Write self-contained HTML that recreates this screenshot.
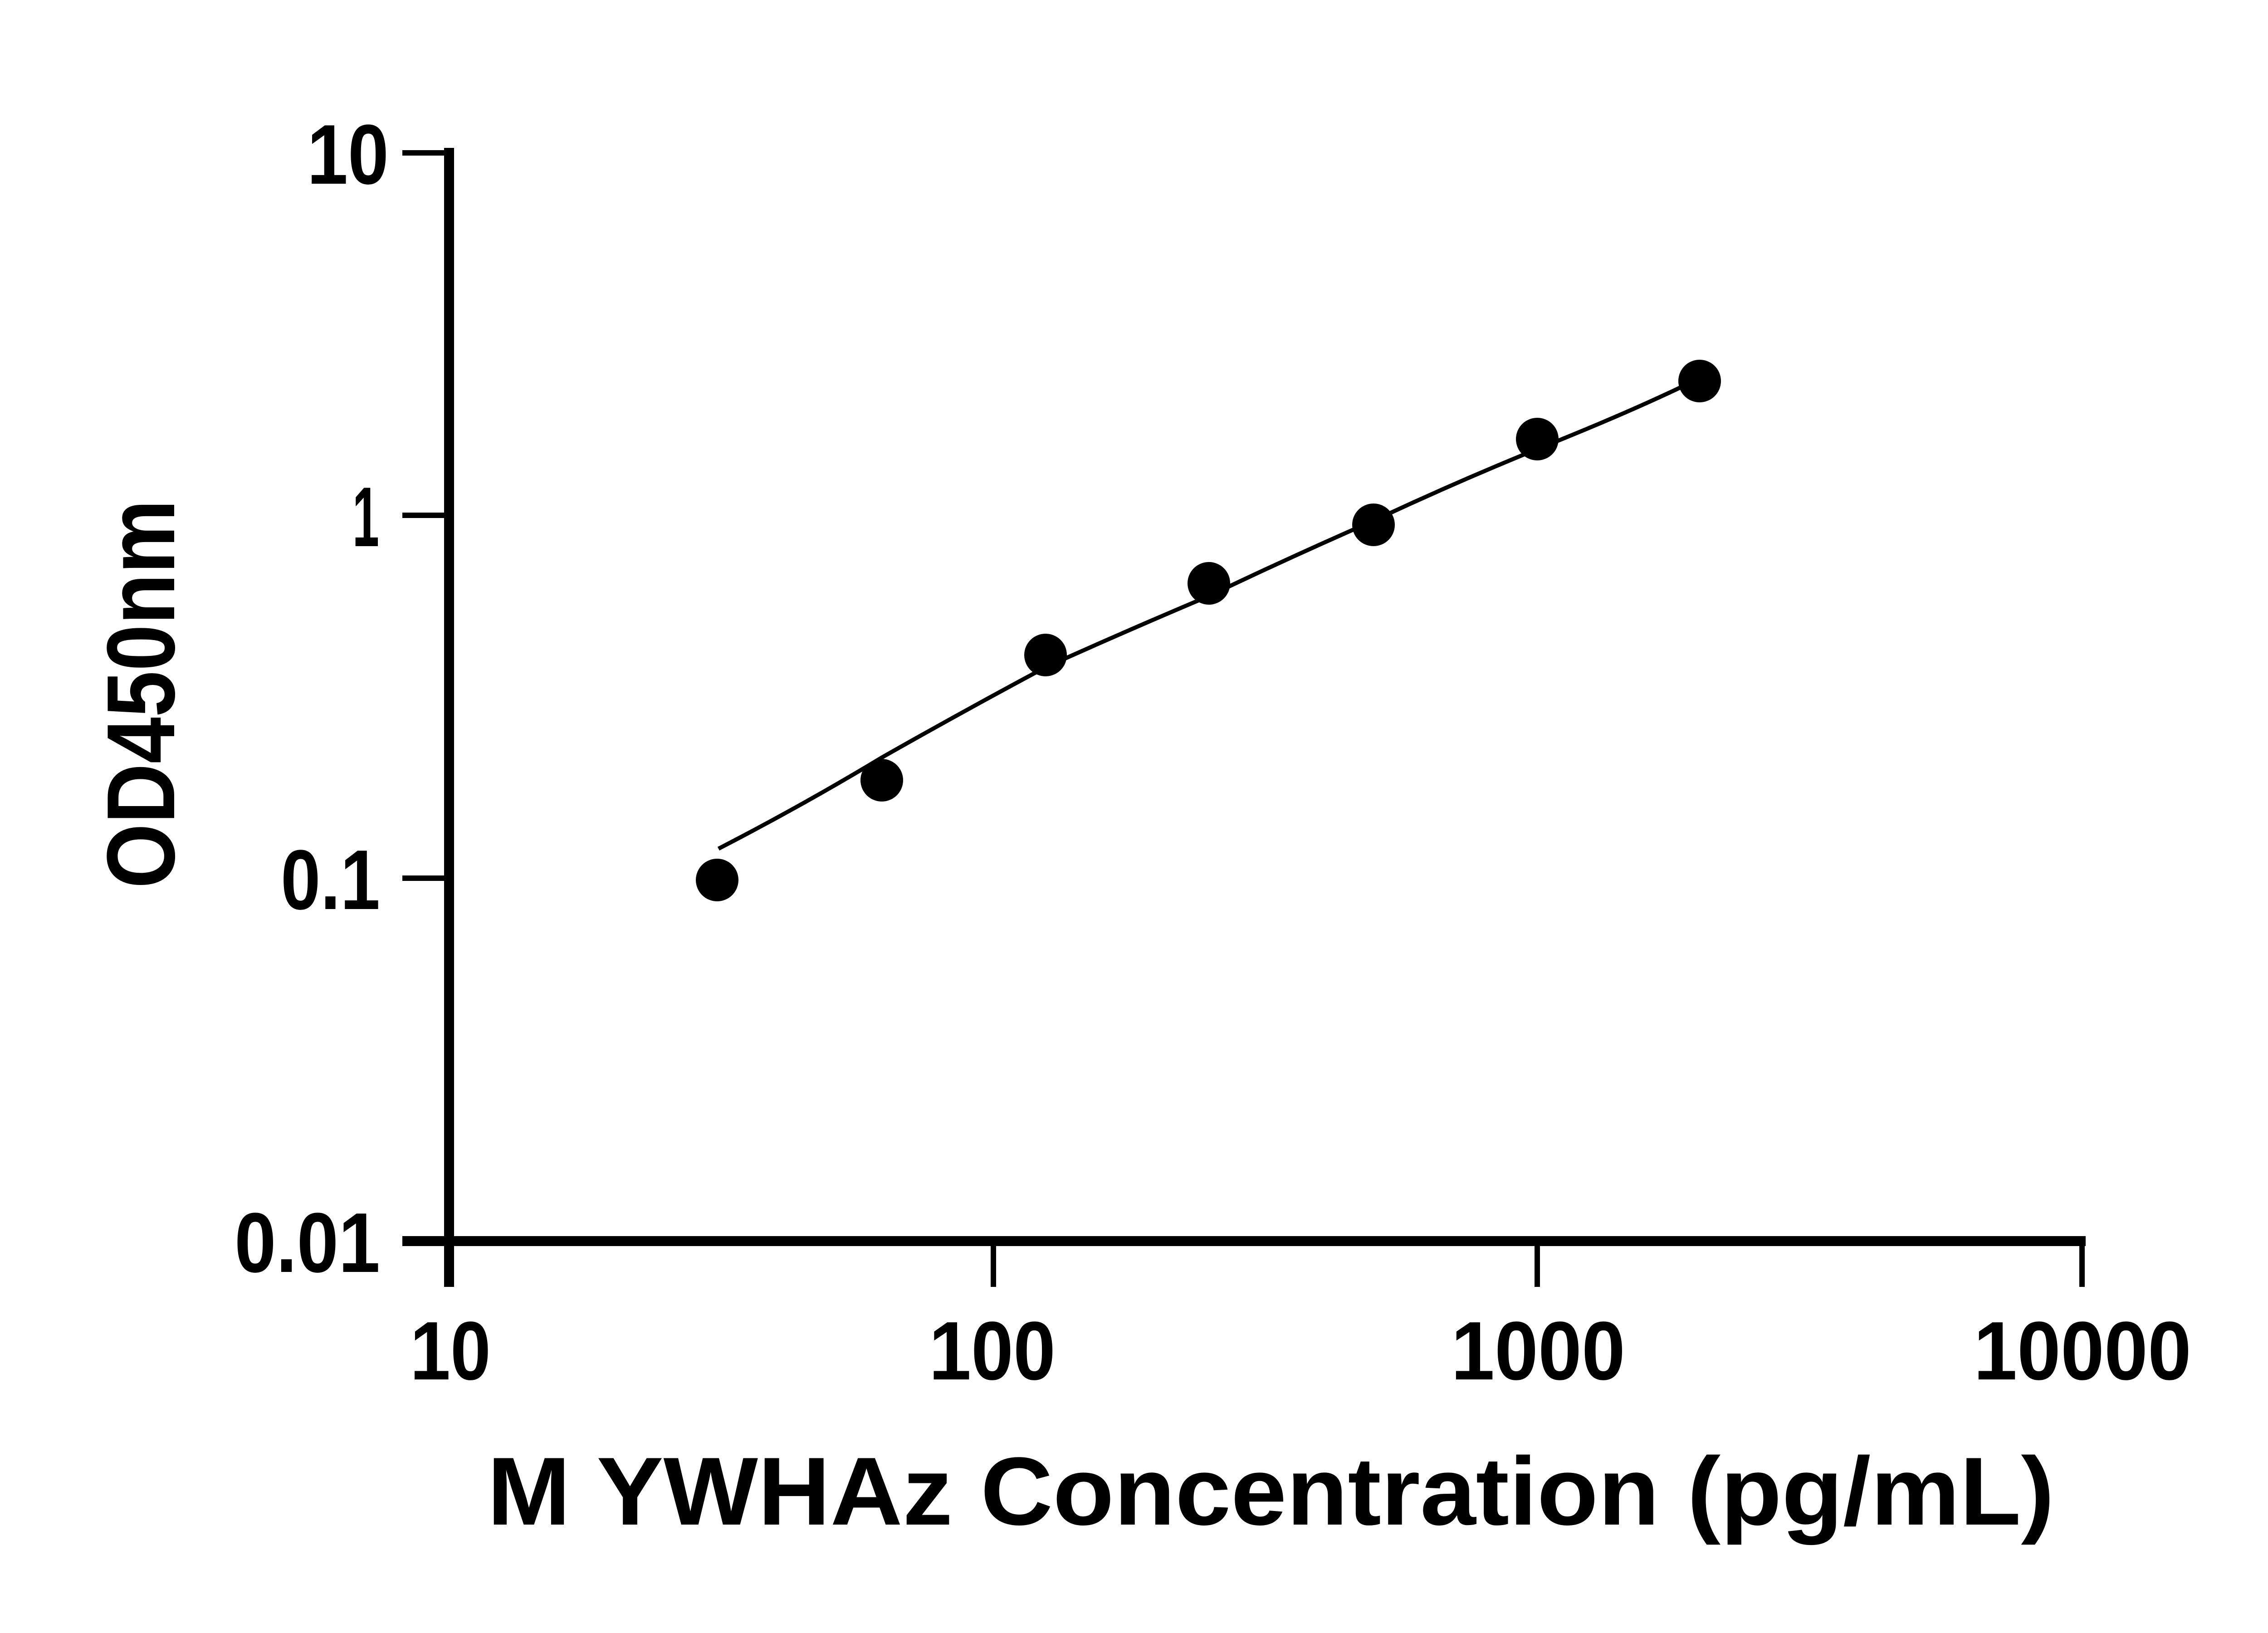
<!DOCTYPE html>
<html><head><meta charset="utf-8"><style>
html,body{margin:0;padding:0;background:#fff;}
svg{display:block;}
text{font-family:"Liberation Sans",Arial,sans-serif;font-weight:bold;fill:#000;}
</style></head><body>
<svg width="5142" height="3600" viewBox="0 0 5142 3600" xmlns="http://www.w3.org/2000/svg">
<!-- axes -->
<line x1="990" y1="326" x2="990" y2="2837" stroke="#000" stroke-width="22"/>
<line x1="887" y1="2736" x2="4598" y2="2736" stroke="#000" stroke-width="22"/>
<!-- y ticks -->
<g stroke="#000" stroke-width="12">
<line x1="887" y1="337" x2="990" y2="337"/>
<line x1="887" y1="1136" x2="990" y2="1136"/>
<line x1="887" y1="1936" x2="990" y2="1936"/>
</g>
<!-- x ticks -->
<g stroke="#000" stroke-width="12">
<line x1="2190" y1="2736" x2="2190" y2="2837"/>
<line x1="3389" y1="2736" x2="3389" y2="2837"/>
<line x1="4590" y1="2736" x2="4590" y2="2837"/>
</g>
<!-- y tick labels -->
<g font-size="187">
<text x="677" y="405" textLength="180" lengthAdjust="spacingAndGlyphs">10</text>
<text x="777" y="1204" textLength="59" lengthAdjust="spacingAndGlyphs">1</text>
<text x="619" y="2004" textLength="219" lengthAdjust="spacingAndGlyphs">0.1</text>
<text x="517" y="2804" textLength="321" lengthAdjust="spacingAndGlyphs">0.01</text>
</g>
<!-- x tick labels -->
<g font-size="183">
<text x="904" y="3041" textLength="178" lengthAdjust="spacingAndGlyphs">10</text>
<text x="2048" y="3041" textLength="279" lengthAdjust="spacingAndGlyphs">100</text>
<text x="3199" y="3041" textLength="384" lengthAdjust="spacingAndGlyphs">1000</text>
<text x="4351" y="3041" textLength="480" lengthAdjust="spacingAndGlyphs">10000</text>
</g>
<!-- titles -->
<text x="1074" y="3361" font-size="213" textLength="3455" lengthAdjust="spacingAndGlyphs">M YWHAz Concentration (pg/mL)</text>
<text transform="translate(384,1530) rotate(-90)" font-size="213" text-anchor="middle" textLength="857" lengthAdjust="spacingAndGlyphs">OD450nm</text>
<!-- fit curve -->
<path d="M1584,1871 Q1770,1775 1944,1670 Q2120,1570 2305,1471 Q2485,1390 2665,1314 Q2845,1228 3028,1148 Q3205,1065 3389,990 Q3570,918 3705,854" fill="none" stroke="#000" stroke-width="9"/>
<!-- points -->
<g fill="#000">
<circle cx="1581" cy="1940" r="47"/>
<circle cx="1944" cy="1720" r="47"/>
<circle cx="2305" cy="1444" r="47"/>
<circle cx="2665" cy="1286" r="47"/>
<circle cx="3028" cy="1157" r="47"/>
<circle cx="3389" cy="968" r="47"/>
<circle cx="3747" cy="840" r="47"/>
</g>
</svg>
</body></html>
